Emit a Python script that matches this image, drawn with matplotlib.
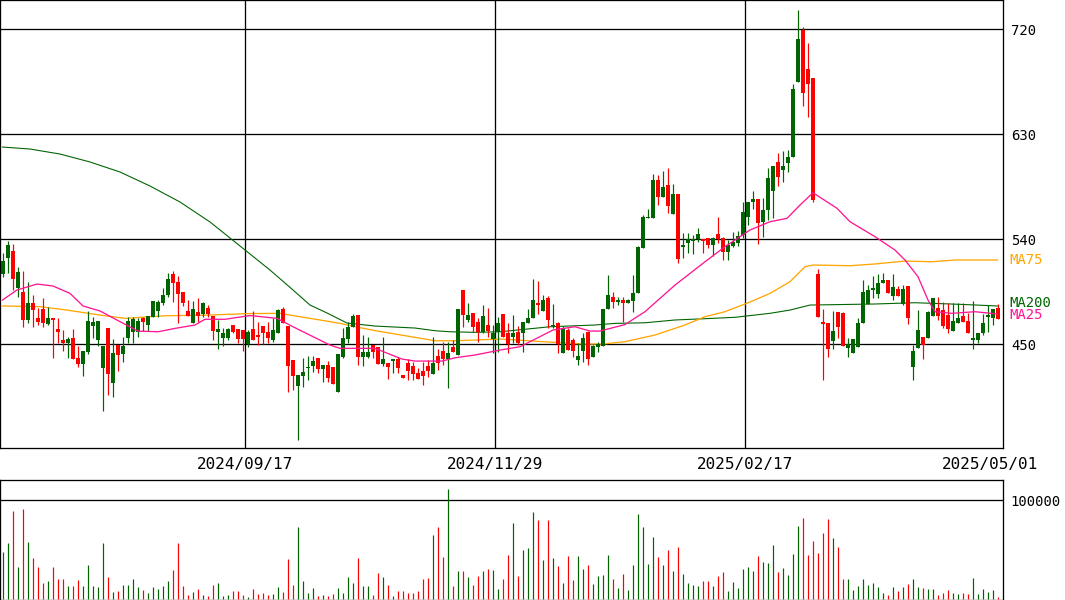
import matplotlib
matplotlib.use("Agg")
import matplotlib.pyplot as plt
import matplotlib.transforms as mtransforms

# Daily OHLC (yen), oldest first
opens = [510.6, 524.3, 530.0, 498.6, 494.9, 471.1, 485.4, 472.3, 480.3, 467.7,
         472.9, 463.1, 453.7, 451.4, 455.7, 438.6, 433.4, 443.7, 465.7, 453.7,
         430.0, 464.0, 417.1, 449.4, 442.0, 455.7, 460.9, 460.9, 472.3, 466.6,
         473.7, 478.9, 485.7, 492.0, 510.3, 503.7, 494.6, 478.6, 468.0, 477.4,
         475.7, 480.9, 474.3, 460.9, 455.1, 455.7, 466.6, 463.1, 462.3, 450.0,
         463.1, 458.0, 465.7, 460.9, 453.7, 459.4, 480.3, 465.7, 436.6, 414.6,
         423.1, 430.0, 431.4, 438.0, 428.9, 432.3, 430.3, 409.4, 439.4, 454.3,
         465.1, 475.1, 439.4, 439.4, 449.4, 448.0, 432.8, 433.7, 436.0, 437.4,
         423.7, 433.7, 431.7, 425.7, 427.4, 431.4, 424.6, 440.0, 444.3, 437.4,
         448.0, 440.8, 496.5, 470.8, 476.5, 468.8, 460.8, 466.5, 454.5, 460.2,
         476.0, 459.4, 456.0, 460.9, 460.0, 468.6, 472.9, 485.7, 478.9, 490.0,
         465.7, 468.6, 442.9, 462.3, 453.7, 436.6, 444.6, 460.9, 439.4, 447.4,
         448.9, 480.0, 490.9, 486.6, 488.0, 485.7, 487.4, 493.7, 532.3, 558.6,
         558.0, 590.9, 576.0, 586.6, 561.7, 578.9, 533.7, 536.6, 538.9, 540.0,
         540.0, 540.9, 535.1, 544.6, 540.9, 529.4, 534.3, 536.6, 543.7, 559.4,
         571.7, 574.6, 554.7, 565.1, 581.7, 606.0, 599.4, 605.1, 610.8, 675.1,
         719.4, 686.0, 678.5, 510.3, 469.4, 468.5, 453.1, 478.0, 476.5, 447.1,
         442.3, 448.0, 468.5, 484.5, 497.0, 492.8, 502.2, 505.1, 491.7, 497.1,
         484.5, 499.9, 430.8, 447.1, 456.5, 455.7, 474.5, 480.8, 479.4, 475.1,
         461.4, 468.0, 474.5, 469.9, 453.7, 453.7, 459.4, 473.7, 472.2, 481.4]
highs = [528.6, 538.6, 536.0, 516.6, 512.9, 503.1, 492.3, 480.9, 489.7, 481.7,
         472.9, 472.6, 462.3, 456.0, 462.9, 448.6, 444.3, 478.6, 473.1, 470.0,
         448.6, 464.0, 454.3, 449.4, 456.6, 473.7, 473.1, 472.3, 473.1, 474.3,
         487.1, 488.0, 498.0, 510.9, 512.9, 508.9, 494.6, 488.0, 487.1, 489.4,
         486.0, 483.7, 474.3, 470.9, 463.7, 463.7, 466.6, 463.1, 462.3, 462.3,
         478.9, 469.4, 465.7, 469.4, 472.3, 480.3, 481.7, 465.7, 436.6, 423.7,
         438.6, 440.0, 440.0, 438.0, 432.3, 435.7, 430.3, 441.4, 463.7, 469.4,
         476.0, 475.1, 458.0, 456.0, 449.4, 448.0, 456.0, 433.7, 437.4, 438.9,
         423.7, 437.4, 435.1, 429.4, 435.1, 436.6, 456.6, 445.7, 452.3, 452.3,
         453.7, 480.3, 496.5, 485.1, 476.5, 472.3, 483.7, 480.8, 466.5, 473.7,
         476.0, 468.6, 475.1, 465.7, 468.9, 480.3, 506.0, 504.3, 492.3, 491.4,
         484.6, 469.4, 466.0, 463.7, 455.1, 450.9, 459.4, 461.7, 449.4, 451.7,
         480.3, 509.4, 495.1, 490.9, 490.3, 488.6, 509.4, 534.3, 560.9, 566.0,
         596.0, 595.1, 598.6, 601.4, 587.4, 578.9, 545.1, 545.1, 543.7, 550.0,
         540.0, 540.9, 541.7, 558.9, 542.3, 539.4, 546.6, 547.1, 572.3, 572.3,
         581.4, 574.6, 575.1, 600.8, 602.8, 613.7, 615.7, 616.5, 673.1, 736.5,
         722.2, 708.5, 678.5, 514.3, 480.0, 468.5, 478.8, 478.0, 478.0, 455.1,
         454.3, 472.2, 505.1, 500.8, 508.5, 510.2, 510.8, 505.1, 510.2, 499.9,
         500.8, 499.9, 449.4, 479.4, 456.5, 478.5, 489.4, 490.2, 486.5, 485.7,
         485.1, 485.1, 485.1, 476.5, 487.1, 459.9, 475.7, 483.7, 480.0, 484.2]
lows = [508.0, 511.4, 496.6, 490.9, 465.1, 468.0, 465.1, 466.6, 465.1, 466.6,
        438.6, 451.4, 444.6, 438.3, 437.4, 430.3, 423.1, 442.0, 455.7, 448.6,
        392.9, 406.6, 405.1, 427.1, 435.1, 450.9, 450.9, 456.6, 461.4, 461.4,
        473.7, 473.7, 483.7, 490.9, 486.6, 468.0, 482.9, 474.3, 468.0, 469.4,
        473.7, 473.7, 453.7, 445.7, 448.6, 453.7, 459.4, 451.4, 444.6, 448.0,
        453.7, 449.4, 450.3, 451.4, 452.3, 459.4, 468.0, 409.4, 410.9, 368.0,
        413.7, 419.4, 426.6, 425.7, 418.0, 418.0, 415.7, 409.4, 438.6, 450.9,
        465.1, 432.3, 431.4, 438.0, 438.0, 432.8, 431.7, 420.3, 425.1, 425.1,
        421.4, 419.4, 419.4, 420.3, 415.1, 422.3, 424.6, 428.0, 432.3, 412.9,
        443.7, 440.8, 465.1, 469.4, 460.8, 452.3, 459.4, 456.5, 442.2, 443.7,
        456.6, 442.9, 451.4, 449.4, 443.7, 468.0, 472.9, 475.7, 478.9, 463.7,
        463.7, 442.9, 442.3, 445.1, 439.4, 432.3, 435.1, 432.3, 439.4, 443.7,
        448.9, 480.0, 480.9, 483.7, 469.4, 485.1, 478.0, 493.7, 532.3, 558.0,
        558.0, 569.4, 576.0, 562.3, 561.7, 520.0, 523.7, 528.0, 527.4, 538.0,
        528.0, 532.3, 526.0, 536.6, 522.3, 522.3, 533.1, 534.3, 540.9, 552.3,
        566.0, 536.0, 541.7, 556.5, 558.0, 586.0, 589.4, 598.0, 610.8, 675.1,
        654.2, 644.5, 572.3, 473.7, 419.4, 439.4, 445.7, 455.1, 448.8, 439.4,
        442.3, 448.0, 468.5, 484.5, 489.4, 489.4, 502.2, 493.7, 488.0, 491.7,
        483.7, 467.4, 419.4, 447.1, 437.4, 455.7, 474.5, 470.8, 463.7, 459.4,
        461.4, 468.0, 469.4, 459.9, 445.7, 450.8, 458.0, 460.8, 466.5, 471.7]
closes = [521.4, 535.1, 506.3, 512.0, 471.1, 485.4, 479.7, 469.4, 468.6, 472.6,
          470.9, 460.9, 451.4, 454.9, 437.4, 433.4, 444.3, 470.0, 469.1, 470.0,
          448.6, 424.6, 442.3, 440.9, 448.6, 470.0, 471.7, 470.0, 469.4, 474.3,
          487.1, 486.0, 492.3, 506.0, 502.3, 493.1, 485.7, 474.3, 480.0, 474.3,
          485.1, 475.7, 461.7, 463.1, 460.0, 463.1, 460.9, 454.6, 454.6, 460.9,
          453.7, 456.6, 459.4, 455.7, 462.3, 479.4, 468.0, 431.4, 423.1, 423.7,
          426.6, 430.6, 435.7, 428.9, 432.3, 420.9, 415.7, 441.4, 455.1, 465.1,
          474.3, 439.4, 443.7, 443.1, 443.7, 432.8, 437.4, 430.9, 437.4, 430.0,
          421.4, 427.4, 424.6, 420.3, 423.1, 427.4, 433.7, 433.7, 437.4, 442.3,
          443.7, 480.3, 475.1, 475.1, 465.1, 460.8, 474.3, 461.4, 460.0, 468.5,
          456.6, 450.3, 460.0, 450.9, 468.9, 472.3, 488.0, 483.7, 488.0, 470.9,
          466.6, 450.3, 463.1, 445.1, 444.6, 440.0, 455.1, 437.4, 448.9, 450.3,
          480.3, 492.3, 486.6, 488.0, 485.7, 488.0, 494.3, 533.1, 559.4, 559.4,
          590.9, 576.6, 584.6, 568.9, 578.9, 523.1, 535.1, 540.0, 540.0, 544.6,
          538.9, 535.1, 540.9, 540.3, 529.4, 535.1, 538.0, 542.9, 563.7, 572.3,
          574.6, 554.3, 565.1, 592.3, 602.8, 593.1, 602.8, 610.8, 668.8, 711.7,
          665.1, 673.1, 573.7, 473.7, 467.4, 445.7, 461.4, 465.1, 448.8, 450.2,
          454.3, 468.0, 494.5, 496.5, 498.7, 502.8, 505.1, 494.2, 498.8, 491.7,
          497.1, 472.2, 444.2, 462.2, 449.4, 477.4, 489.4, 474.5, 466.0, 463.1,
          469.9, 472.2, 469.4, 459.9, 455.7, 459.9, 468.5, 475.1, 480.0, 471.7]
# Daily volume, thousands of shares
volumes_k = [48.1, 57.2, 89.2, 32.9, 91.5, 58.2, 42.0, 32.9, 16.8, 18.8,
             32.9, 20.8, 20.8, 13.7, 13.7, 19.8, 13.4, 34.9, 13.7, 12.7,
             57.2, 22.8, 7.7, 8.7, 14.7, 14.7, 20.8, 12.7, 9.7, 6.7,
             12.7, 10.7, 13.7, 18.8, 29.9, 57.2, 13.7, 4.6, 7.7, 10.7,
             4.6, 3.6, 14.7, 16.8, 3.6, 4.6, 8.7, 8.7, 4.6, 2.6,
             10.7, 5.7, 6.7, 4.6, 5.7, 12.7, 7.7, 41.0, 14.7, 73.3,
             18.8, 6.7, 11.7, 3.6, 4.6, 3.6, 5.7, 11.7, 6.7, 22.8,
             16.8, 42.0, 13.7, 13.7, 4.6, 26.9, 22.8, 14.7, 3.6, 8.7,
             8.7, 6.7, 6.7, 8.7, 20.8, 21.8, 65.3, 73.3, 43.0, 111.7,
             13.7, 28.9, 28.9, 22.8, 14.7, 23.8, 28.9, 30.9, 29.9, 10.7,
             20.8, 45.1, 77.4, 23.8, 50.1, 52.1, 88.5, 80.4, 40.0, 80.4,
             42.0, 33.9, 16.8, 44.0, 19.8, 44.0, 30.9, 34.9, 15.8, 23.8,
             24.8, 45.1, 20.8, 11.7, 25.9, 9.7, 34.9, 86.5, 73.3, 36.0,
             63.2, 43.0, 34.9, 50.1, 28.9, 53.1, 25.9, 16.8, 14.7, 13.7,
             18.8, 18.8, 13.7, 23.8, 27.9, 8.7, 17.8, 11.7, 30.9, 32.9,
             28.9, 44.0, 38.0, 37.0, 55.2, 27.9, 31.9, 24.8, 46.1, 74.3,
             82.4, 45.1, 59.2, 47.1, 67.3, 81.4, 62.2, 53.1, 20.8, 20.8,
             9.7, 13.7, 20.8, 14.7, 16.8, 12.7, 6.7, 4.6, 12.7, 8.7,
             12.7, 15.8, 20.8, 12.7, 11.7, 10.7, 10.7, 4.6, 6.7, 9.7,
             6.7, 5.7, 6.7, 5.7, 21.8, 5.7, 10.7, 7.7, 9.7, 2.6]

# Moving averages, sampled at bar positions
ma25_x = [0, 2.9, 6.9, 10.1, 13.5, 16.1, 19.5, 24.5, 27.1, 31.1, 34.5, 38.5,
          40.5, 44.5, 49.5, 54.9, 58.1, 62.1, 65.5, 67.5, 74.5, 79.9, 82.5,
          87.9, 90.5, 94.5, 99.5, 103.5, 107.5, 110.1, 114.5, 117.5, 119.5,
          124.5, 128.5, 134.5, 140.5, 144.5, 149.5, 153.5, 156.9, 159.5,
          162.1, 166.9, 169.5, 174.5, 178.5, 180.5, 183.1, 185.1, 186.5,
          189.9, 194.5, 199.0]
ma25_v = [488.0, 496.6, 501.7, 500.0, 493.7, 482.9, 478.6, 467.2, 461.4, 460.8,
          463.7, 466.6, 471.5, 471.5, 474.7, 472.3, 465.1, 456.6, 449.4, 446.6,
          446.6, 437.4, 435.7, 435.7, 438.5, 440.9, 445.1, 448.0, 456.6, 462.3,
          465.1, 461.4, 461.4, 467.0, 478.0, 500.8, 520.8, 533.7, 548.0, 555.1,
          558.0, 569.4, 579.9, 566.6, 555.1, 542.3, 530.8, 522.3, 508.0, 488.0,
          478.0, 476.6, 478.0, 476.0]
ma75_x = [0, 7.5, 12.9, 19.5, 24.5, 32.5, 41.1, 49.5, 55.5, 57.5, 63.5, 67.5,
          71.5, 74.5, 78.5, 82.5, 86.5, 90.5, 94.5, 99.5, 108.1, 116.1, 120.1,
          124.5, 130.5, 136.5, 140.5, 144.5, 149.5, 153.5, 157.5, 160.5, 162.1,
          169.5, 174.5, 180.5, 185.9, 190.5, 199.0]
ma75_v = [482.9, 482.3, 479.4, 475.1, 472.3, 474.5, 475.1, 476.4, 476.6, 475.1,
          470.9, 468.0, 464.3, 461.8, 458.9, 456.0, 453.1, 453.1, 453.7, 454.6,
          452.3, 450.3, 450.3, 452.3, 458.0, 466.6, 473.7, 478.0, 486.3, 493.7,
          503.7, 516.5, 518.0, 517.4, 518.9, 521.4, 520.8, 522.3, 522.3]
ma200_x = [0, 5.5, 11.5, 17.5, 23.5, 29.5, 35.5, 41.5, 47.5, 53.5, 58.1, 61.5,
           64.9, 68.9, 74.5, 82.5, 86.5, 89.5, 94.5, 99.5, 109.5, 118.5, 122.5,
           128.5, 134.5, 140.5, 146.5, 153.5, 157.5, 161.5, 174.5, 182.5,
           191.5, 199.0]
ma200_v = [619.1, 617.4, 613.1, 606.3, 597.7, 585.7, 572.0, 554.9, 534.3, 513.7,
           496.6, 483.7, 476.9, 468.3, 465.7, 464.0, 461.7, 460.8, 460.3, 460.8,
           465.1, 466.6, 468.0, 468.5, 470.9, 472.0, 473.2, 476.6, 479.4, 483.7,
           484.6, 485.7, 484.3, 482.9]

date_ticks = [49, 99, 149, 199]
date_labels = ["2024/09/17", "2024/11/29", "2025/02/17", "2025/05/01"]
price_ticks = [720, 630, 540, 450]
volume_ticks = [100000]

UP = "#006400"
DOWN = "#ff0000"
C_MA25 = "#ff1493"
C_MA75 = "#ffa500"
C_MA200 = "#006400"
MONO = "DejaVu Sans Mono"
PX = 0.72  # one pixel in points at 100 dpi

W, H = 1065, 600
fig = plt.figure(figsize=(W / 100, H / 100), dpi=100)


def px_rect(left, top, right, bottom):
    return [left / W, 1 - bottom / H, (right - left) / W, (bottom - top) / H]


ax = fig.add_axes(px_rect(0, 0, 1003, 448))
axv = fig.add_axes(px_rect(0, 480, 1003, 600))

n = len(closes)
xs = list(range(n))
colors = [UP if c >= o else DOWN for o, c in zip(opens, closes)]

# price panel
ax.set_xlim(-0.5, 200.1)
ax.set_ylim(361.2, 745.1)
for p in price_ticks:
    ax.axhline(p, color="black", lw=1.3 * PX, zorder=1)
for t in date_ticks[:-1]:
    ax.axvline(t - 0.5, color="black", lw=1.3 * PX, zorder=1)

ax.vlines(xs, lows, highs, colors=colors, lw=1.2 * PX, zorder=3)
bottoms = [min(o, c) for o, c in zip(opens, closes)]
heights = [max(abs(c - o), 0.9) for o, c in zip(opens, closes)]
ax.bar(xs, heights, bottom=bottoms, width=0.8, color=colors, lw=0, zorder=4)

ax.plot(ma200_x, ma200_v, color=C_MA200, lw=1.1 * PX, zorder=2)
ax.plot(ma75_x, ma75_v, color=C_MA75, lw=1.3 * PX, zorder=2)
ax.plot(ma25_x, ma25_v, color=C_MA25, lw=1.3 * PX, zorder=5)

ax.yaxis.tick_right()
ax.set_yticks(price_ticks)
ax.set_yticklabels([str(p) for p in price_ticks], fontfamily=MONO, fontsize=10)
ax.tick_params(axis="y", length=0, pad=6)
ax.set_xticks([])
for s in ax.spines.values():
    s.set_color("black")
    s.set_linewidth(1.3 * PX)

# moving-average labels beside the right edge
for name, vals, col, dy in [("MA75", ma75_v, C_MA75, 0.0),
                            ("MA200", ma200_v, C_MA200, 2.5),
                            ("MA25", ma25_v, C_MA25, -1.0)]:
    ax.text(1.006, vals[-1] + dy, name, color=col, fontfamily=MONO, fontsize=10,
            va="center", ha="left",
            transform=mtransforms.blended_transform_factory(ax.transAxes, ax.transData),
            clip_on=False)

# date labels in the band between panels
date_tr = mtransforms.blended_transform_factory(ax.transData, fig.transFigure)
for t, lab in zip(date_ticks, date_labels):
    x = min(t - 0.5, 197.5)
    fig.text(x, 1 - 465 / H, lab, transform=date_tr, ha="center", va="center",
             fontfamily=MONO, fontsize=11.5, color="black")

# volume panel
axv.set_xlim(-0.5, 200.1)
axv.set_ylim(-700, 120500)
axv.axhline(volume_ticks[0], color="black", lw=1.3 * PX, zorder=1)
axv.vlines(xs, 0, [v * 1000 for v in volumes_k], colors=colors, lw=1.2 * PX, zorder=3)
axv.yaxis.tick_right()
axv.set_yticks(volume_ticks)
axv.set_yticklabels([str(v) for v in volume_ticks], fontfamily=MONO, fontsize=10)
axv.tick_params(axis="y", length=0, pad=5)
axv.set_xticks([])
for side, s in axv.spines.items():
    s.set_color("black")
    s.set_linewidth(1.3 * PX)

fig.savefig("out.png", dpi=100)
